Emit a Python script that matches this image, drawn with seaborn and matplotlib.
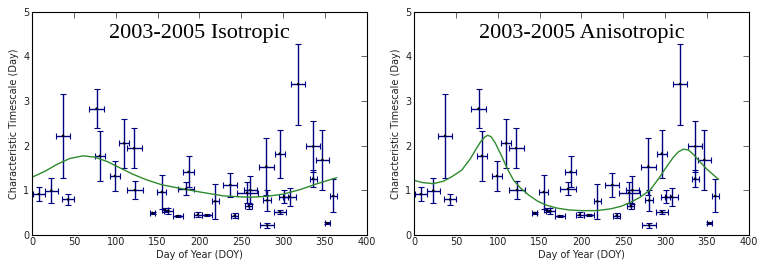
import matplotlib
matplotlib.use('Agg')
import matplotlib.pyplot as plt
import seaborn as sns
import numpy as np

# measured points (same data in both panels)
doy = [8, 23, 37, 43, 77, 81, 99, 110, 122, 123, 144, 155, 159, 163, 174, 187, 184,
       198, 209, 219, 237, 242, 259, 257, 261, 280, 281, 281, 296, 296, 301, 308,
       318, 336, 336, 347, 353, 360]
doy_err = [7.5, 7.5, 8, 7, 9, 5.6, 5.6, 6, 9, 10, 3, 5.6, 4, 5, 6, 7, 10,
           5, 6.4, 4, 8.5, 4, 4, 12.5, 8, 9, 5, 8, 6, 7, 5.4, 7.5,
           8, 8, 4, 7.5, 3, 4.4]
tau = [0.91, 0.99, 2.22, 0.79, 2.83, 1.77, 1.32, 2.05, 1.94, 1.00, 0.49, 0.96, 0.55, 0.53,
       0.42, 1.41, 1.03, 0.45, 0.44, 0.75, 1.12, 0.43, 0.64, 0.94, 1.00, 1.53, 0.77, 0.21,
       1.82, 0.51, 0.85, 0.85, 3.38, 1.98, 1.26, 1.68, 0.26, 0.87]
tau_err = [0.16, 0.28, 0.94, 0.12, 0.43, 0.56, 0.34, 0.55, 0.45, 0.21, 0.03, 0.39, 0.04, 0.06,
           0.02, 0.35, 0.15, 0.05, 0.03, 0.39, 0.27, 0.05, 0.06, 0.24, 0.31, 0.65, 0.23, 0.05,
           0.54, 0.04, 0.15, 0.20, 0.91, 0.58, 0.20, 0.68, 0.03, 0.37]

# fitted curves
iso_day = [0, 15, 30, 45, 61, 75, 90, 105, 120, 137, 155, 177, 200, 229, 260, 280, 300, 320, 340, 364]
iso_val = [1.29, 1.42, 1.58, 1.71, 1.77, 1.74, 1.64, 1.50, 1.36, 1.23, 1.12, 1.04, 0.96, 0.87,
           0.84, 0.86, 0.91, 1.01, 1.14, 1.28]
aniso_day = [0, 10, 23, 35, 45, 57, 67, 75, 80, 85, 88, 92, 97, 105, 112, 119, 127, 137, 147,
             157, 170, 185, 200, 218, 235, 248, 258, 270, 282, 292, 302, 310, 316, 322, 328,
             334, 340, 350, 364]
aniso_val = [1.22, 1.17, 1.145, 1.2, 1.3, 1.45, 1.7, 1.95, 2.1, 2.2, 2.23, 2.2, 2.06, 1.75,
             1.46, 1.22, 1.05, 0.89, 0.76, 0.67, 0.60, 0.555, 0.54, 0.54, 0.58, 0.64, 0.72,
             0.84, 1.0, 1.25, 1.53, 1.74, 1.86, 1.92, 1.9, 1.8, 1.67, 1.47, 1.24]

titles = ['2003-2005 Isotropic', '2003-2005 Anisotropic']
curves = [(iso_day, iso_val), (aniso_day, aniso_val)]

sns.set_style('white')
plt.rcParams.update({
    'xtick.direction': 'in', 'ytick.direction': 'in',
    'xtick.top': True, 'ytick.right': True,
    'xtick.major.size': 4, 'ytick.major.size': 4,
    'xtick.major.width': 0.5, 'ytick.major.width': 0.5,
    'xtick.labelsize': 7, 'ytick.labelsize': 7,
    'axes.labelsize': 7, 'axes.linewidth': 0.8,
    'axes.edgecolor': 'black',
    'text.color': '#222222', 'xtick.labelcolor': '#222222', 'ytick.labelcolor': '#222222',
    'axes.labelcolor': '#222222',
})
plt.rcParams['font.family'] = ['DejaVu Sans']

fig = plt.figure(figsize=(7.64, 2.71), dpi=100)
lefts = [0.042, 0.542]
for i in range(2):
    ax = fig.add_axes([lefts[i], 0.134, 0.438, 0.822])
    ax.errorbar(doy, tau, xerr=doy_err, yerr=tau_err, fmt='none', ecolor='#000080',
                elinewidth=1.0, capsize=2.5, capthick=0.8)
    sns.scatterplot(x=doy, y=tau, color='black', s=3, edgecolor='none', ax=ax, zorder=3)
    sns.lineplot(x=curves[i][0], y=curves[i][1], color='#2e8b2e', lw=1.0, ax=ax,
                 estimator=None, sort=False)
    ax.set_xlim(0, 400)
    ax.set_ylim(0, 5)
    ax.set_xticks(range(0, 401, 50))
    ax.set_yticks(range(0, 6))
    ax.tick_params(pad=2)
    ax.set_xlabel('Day of Year (DOY)', labelpad=2)
    ax.set_ylabel('Characteristic Timescale (Day)', labelpad=3)
    ax.text(0.5, 0.945, titles[i], transform=ax.transAxes, ha='center', va='top',
            fontsize=16, family='Liberation Serif', color='black')

fig.savefig('out.png', dpi=100)
